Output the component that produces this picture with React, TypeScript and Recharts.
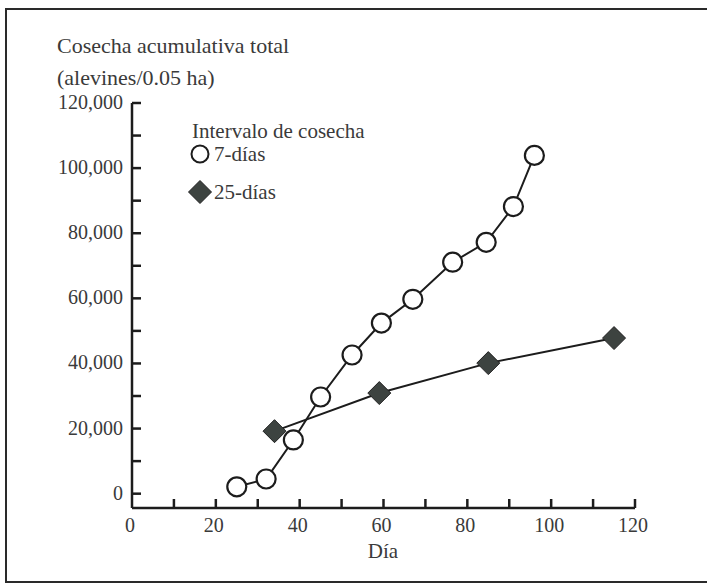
import React from 'react';
import { LineChart, Line, XAxis, YAxis } from 'recharts';

// Cosecha acumulativa total (alevines/0.05 ha) vs Día
const dias7 = [25, 32, 38.5, 45, 52.5, 59.5, 67, 76.5, 84.5, 91, 96];
const cosecha7 = [2100, 4500, 16500, 29700, 42600, 52400, 59700, 71100, 77200, 88200, 103900];
const dias25 = [34, 59, 85, 115];
const cosecha25 = [19200, 30900, 40100, 47800];

const xTicks = [0, 10, 20, 30, 40, 50, 60, 70, 80, 90, 100, 110, 120];
const yTicks = [0, 10000, 20000, 30000, 40000, 50000, 60000, 70000, 80000, 90000, 100000, 110000, 120000];

const serie7 = dias7.map((d, i) => ({ dia: d, valor: cosecha7[i] }));
const serie25 = dias25.map((d, i) => ({ dia: d, valor: cosecha25[i] }));

const FONT = '"Liberation Serif", "DejaVu Serif", serif';
const INK = '#1c1c1c';
const TEXT = '#3a3a3a';

const XTick = (props: any) => {
  const { x, y, payload } = props;
  const v = payload.value;
  return (
    <g>
      {v !== 0 && <line x1={x} y1={y} x2={x} y2={y - 9} stroke={INK} strokeWidth={2.5} />}
      {v % 20 === 0 && (
        <text x={x - 2} y={y + 24} textAnchor="middle" fontFamily={FONT} fontSize={20} fill={TEXT}>
          {v}
        </text>
      )}
    </g>
  );
};

const YTick = (props: any) => {
  const { x, y, payload } = props;
  const v = payload.value;
  return (
    <g>
      <line x1={x} y1={y} x2={x + 9} y2={y} stroke={INK} strokeWidth={2.5} />
      {v % 20000 === 0 && (
        <text x={x - 9} y={y + 6} textAnchor="end" fontFamily={FONT} fontSize={20} fill={TEXT}>
          {v.toLocaleString('en-US')}
        </text>
      )}
    </g>
  );
};

const CircleDot = (props: any) => {
  const { cx, cy } = props;
  return <circle key={`c-${cx}`} cx={cx} cy={cy} r={9.5} fill="#fff" stroke={INK} strokeWidth={2.2} />;
};

const DiamondDot = (props: any) => {
  const { cx, cy } = props;
  const s = 11.5;
  return (
    <path
      key={`d-${cx}`}
      d={`M${cx},${cy - s}L${cx + s},${cy}L${cx},${cy + s}L${cx - s},${cy}Z`}
      fill="#3d4340"
      stroke="#222"
      strokeWidth={1}
    />
  );
};

export default function App() {
  return (
    <div style={{ position: 'relative', width: 707, height: 584, background: '#fff', overflow: 'hidden' }}>
      <style>{'body{margin:0;}'}</style>
      <div
        style={{
          position: 'absolute',
          left: 5,
          top: 8,
          width: 710,
          height: 575,
          border: '2px solid #2a2a2a',
          boxSizing: 'border-box',
        }}
      />
      <div style={{ position: 'absolute', left: 0, top: 0 }}>
        <LineChart width={707} height={584} margin={{ top: 103, right: 72, bottom: 75, left: 131 }}>
          <XAxis
            dataKey="dia"
            type="number"
            domain={[0, 120]}
            ticks={xTicks}
            interval={0}
            height={1}
            tickSize={0}
            tickMargin={0}
            tick={<XTick />}
            axisLine={{ stroke: INK, strokeWidth: 2.5 }}
            allowDuplicatedCategory={false}
          />
          <YAxis
            dataKey="valor"
            type="number"
            domain={[-4400, 120000]}
            ticks={yTicks}
            interval={0}
            width={1}
            tickSize={0}
            tickMargin={0}
            tick={<YTick />}
            axisLine={{ stroke: INK, strokeWidth: 2.5 }}
          />
          <Line
            data={serie7}
            dataKey="valor"
            stroke={INK}
            strokeWidth={2}
            dot={<CircleDot />}
            activeDot={false}
            isAnimationActive={false}
          />
          <Line
            data={serie25}
            dataKey="valor"
            stroke={INK}
            strokeWidth={2}
            dot={<DiamondDot />}
            activeDot={false}
            isAnimationActive={false}
          />
        </LineChart>
      </div>
      <svg
        width={707}
        height={584}
        style={{ position: 'absolute', left: 0, top: 0, pointerEvents: 'none' }}
        fontFamily={FONT}
        fill={TEXT}
      >
        <text x={57} y={53} fontSize={22}>Cosecha acumulativa total</text>
        <text x={57} y={85} fontSize={22}>(alevines/0.05 ha)</text>
        <text x={192} y={138} fontSize={21}>Intervalo de cosecha</text>
        <circle cx={200} cy={154} r={8.5} fill="#fff" stroke={INK} strokeWidth={2} />
        <text x={214} y={161} fontSize={21}>7-días</text>
        <path d="M200,180.5L211.5,192L200,203.5L188.5,192Z" fill="#3d4340" stroke="#222" strokeWidth={1} />
        <text x={214} y={199} fontSize={21}>25-días</text>
        <text x={383} y={558} fontSize={21} textAnchor="middle">Día</text>
      </svg>
    </div>
  );
}
